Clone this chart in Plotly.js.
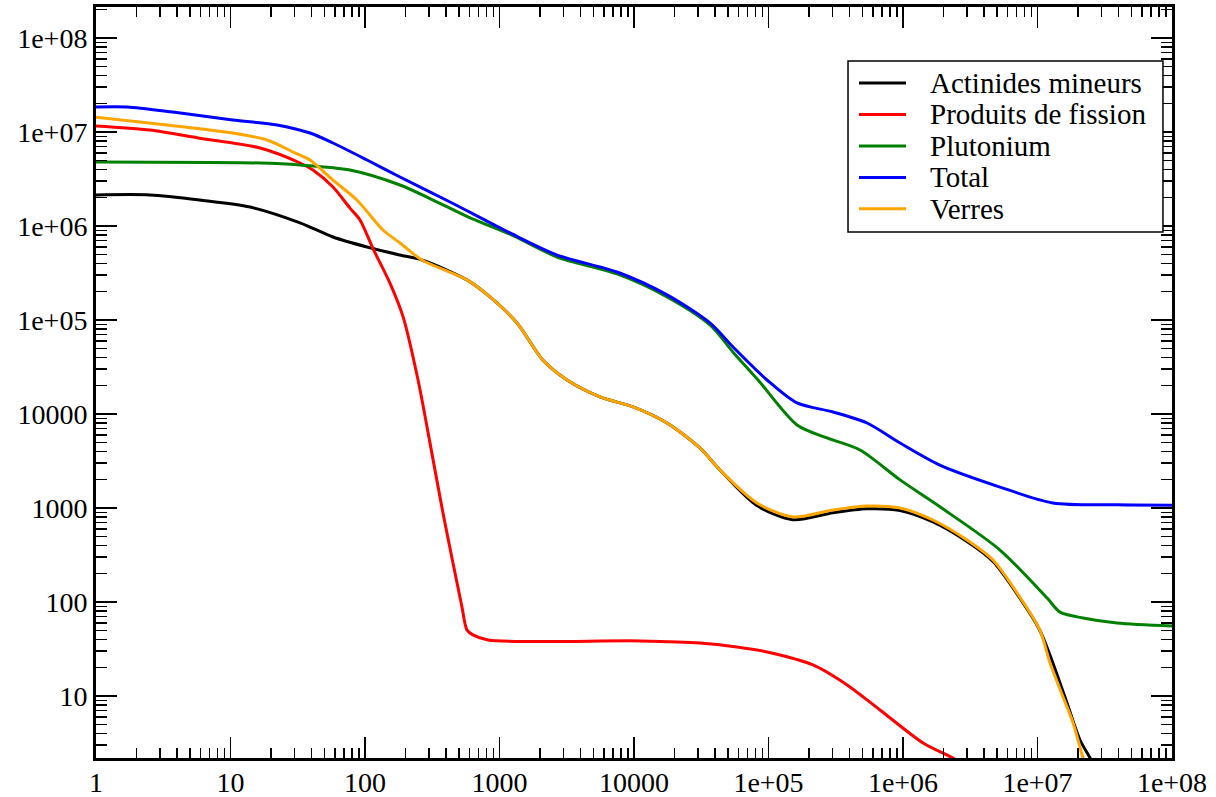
<!DOCTYPE html>
<html>
<head>
<meta charset="utf-8">
<script src="https://cdn.plot.ly/plotly-3.0.1.min.js"></script>
<style>
  html, body { margin: 0; padding: 0; background: #ffffff; }
  #chart { width: 1216px; height: 797px; }
</style>
</head>
<body>
<div id="chart"></div>
<script>
// ---- Data ----
const seriesNames = ["Actinides mineurs", "Produits de fission", "Plutonium", "Total", "Verres"];
const seriesColors = ["#000000", "#ff0000", "#008000", "#0000ff", "#ffa500"];

const tActinides = [1, 2.52, 5.9, 14, 32.9, 57.8, 103.5, 182, 265, 573, 849, 1350, 2100, 3180, 5590, 9840, 17600, 30900, 43500, 82000, 152000, 302000, 540000, 951000, 1.67e6, 2.99e6, 4.67e6, 7.04e6, 1.04e7, 1.6e7, 2.07e7, 2.46e7, 2.68e7];
const vActinides = [2.14e6, 2.14e6, 1.89e6, 1.59e6, 1.08e6, 7.64e5, 5.98e5, 4.91e5, 4.35e5, 2.67e5, 1.76e5, 9.3e4, 3.75e4, 2.3e4, 1.52e4, 1.19e4, 8020, 4350, 2540, 1060, 750, 890, 980, 940, 710, 440, 270, 122, 50, 9.75, 3.4, 2.19, 1.63];

const tFission = [1, 2.52, 5.9, 16.6, 32.9, 41, 57.8, 77.3, 91.8, 115, 153, 192, 248, 321, 380, 451, 526, 573, 635, 821, 11100, 31000, 58300, 97500, 214000, 384000, 674000, 1.41e6, 2.35e6, 3.43e6];
const vFission = [1.16e7, 1.05e7, 8.6e6, 6.76e6, 4.68e6, 3.94e6, 2.6e6, 1.55e6, 1.16e6, 5.7e5, 2.48e5, 1.08e5, 2.3e4, 3240, 885, 260, 88.5, 50.4, 44.6, 39.4, 38.5, 36.6, 33.2, 29.4, 21.4, 13.1, 7.1, 3.16, 2.19, 1.63];

const tPlutonium = [1, 16.6, 32.9, 77.3, 182, 321, 604, 1197, 2680, 7480, 17600, 36700, 54500, 83600, 163000, 272000, 479000, 951000, 1.88e6, 5.26e6, 1.18e7, 1.47e7, 2.18e7, 3.9e7, 1e8];
const vPlutonium = [4.8e6, 4.68e6, 4.46e6, 3.94e6, 2.73e6, 1.89e6, 1.22e6, 8.2e5, 4.68e5, 3.09e5, 1.76e5, 8.85e4, 4.55e4, 2.3e4, 7640, 5560, 4140, 1990, 1030, 357, 110, 78, 67.6, 59.8, 55.6];

const tTotal = [1, 1.7, 3.73, 10.4, 22.2, 39, 57.8, 103.5, 182, 429, 1197, 2680, 7480, 17600, 36700, 54500, 97500, 163000, 302000, 540000, 951000, 1.88e6, 5.26e6, 1.3e7, 3.9e7, 1e8];
const vTotal = [1.85e7, 1.85e7, 1.63e7, 1.34e7, 1.19e7, 9.75e6, 7.64e6, 5.04e6, 3.32e6, 1.8e6, 8.43e5, 4.91e5, 3.24e5, 1.85e5, 9.3e4, 5.16e4, 2.3e4, 1.31e4, 1.05e4, 8020, 4910, 2860, 1670, 1130, 1080, 1070];

const tVerres = [1, 3.37, 10.4, 18.7, 29.2, 39, 57.8, 87, 136, 182, 265, 573, 849, 1350, 2100, 3180, 5590, 9840, 17600, 30900, 43500, 82000, 152000, 302000, 540000, 951000, 1.67e6, 2.99e6, 4.67e6, 7.04e6, 1.04e7, 1.24e7, 1.55e7, 1.84e7, 2.18e7, 2.46e7];
const vVerres = [1.44e7, 1.19e7, 9.75e6, 8.22e6, 6.12e6, 5.04e6, 3.08e6, 1.89e6, 9.06e5, 6.59e5, 4.35e5, 2.67e5, 1.76e5, 9.3e4, 3.75e4, 2.3e4, 1.52e4, 1.19e4, 8020, 4350, 2540, 1130, 802, 953, 1050, 1000, 745, 457, 280, 125, 50.4, 22.4, 9.75, 5.16, 2.19, 1.28];

const xTickVals = [1, 10, 100, 1000, 10000, 1e5, 1e6, 1e7, 1e8];
const xTickText = ["1", "10", "100", "1000", "10000", "1e+05", "1e+06", "1e+07", "1e+08"];
const yTickVals = [10, 100, 1000, 10000, 1e5, 1e6, 1e7, 1e8];
const yTickText = ["10", "100", "1000", "10000", "1e+05", "1e+06", "1e+07", "1e+08"];

// ---- Build ----
function minorVals(kMin, kMax) {
  const out = [];
  for (let k = kMin; k <= kMax; k++) {
    for (let m = 2; m <= 9; m++) out.push(m * Math.pow(10, k));
  }
  return out;
}

const xs = [tActinides, tFission, tPlutonium, tTotal, tVerres];
const ys = [vActinides, vFission, vPlutonium, vTotal, vVerres];

const traces = seriesNames.map((name, i) => ({
  type: "scatter",
  mode: "lines",
  name: name,
  x: xs[i],
  y: ys[i],
  line: { color: seriesColors[i], width: 3, shape: "spline", smoothing: 0.8 },
  showlegend: false
}));

const fontFam = "Liberation Serif";

const axisCommon = {
  type: "log",
  showgrid: false,
  zeroline: false,
  showline: true,
  linecolor: "#000000",
  linewidth: 3,
  mirror: "ticks",
  ticks: "inside",
  ticklen: 21,
  tickwidth: 1.5,
  tickcolor: "#000000",
  tickmode: "array",
  tickfont: { family: fontFam, size: 28, color: "#000000" }
};

// Legend box drawn in paper coordinates (layout only)
const legendBox = { x0: 0.6989, x1: 0.9916, y0: 0.7004, y1: 0.9281 };
const legendLineX = [0.7091, 0.7528];
const legendTextX = 0.7732;
const legendTopY = 0.8988;
const legendStep = 0.0419;

const shapes = [{
  type: "rect", xref: "paper", yref: "paper",
  x0: legendBox.x0, x1: legendBox.x1, y0: legendBox.y0, y1: legendBox.y1,
  line: { color: "#000000", width: 1.5 }, fillcolor: "#ffffff", layer: "above"
}];
const annotations = [];
seriesNames.forEach((name, i) => {
  const yy = legendTopY - i * legendStep;
  shapes.push({
    type: "line", xref: "paper", yref: "paper",
    x0: legendLineX[0], x1: legendLineX[1], y0: yy, y1: yy,
    line: { color: seriesColors[i], width: 3 }, layer: "above"
  });
  annotations.push({
    xref: "paper", yref: "paper", x: legendTextX, y: yy,
    xanchor: "left", yanchor: "middle", showarrow: false,
    text: name, font: { family: fontFam, size: 29, color: "#000000" }
  });
});

const layout = {
  width: 1216,
  height: 797,
  margin: { l: 96, r: 44, t: 7, b: 39 },
  paper_bgcolor: "#ffffff",
  plot_bgcolor: "#ffffff",
  showlegend: false,
  font: { family: fontFam, color: "#000000" },
  xaxis: Object.assign({}, axisCommon, {
    range: [0, 8],
    tickvals: xTickVals,
    ticktext: xTickText,
    ticklabelstandoff: -3,
    minor: { tickmode: "array", tickvals: minorVals(0, 7), ticks: "inside", ticklen: 10, tickwidth: 1.5, tickcolor: "#000000", showgrid: false }
  }),
  yaxis: Object.assign({}, axisCommon, {
    range: [0.34, 8.33],
    tickvals: yTickVals,
    ticktext: yTickText,
    minor: { tickmode: "array", tickvals: minorVals(0, 8), ticks: "inside", ticklen: 11, tickwidth: 1.5, tickcolor: "#000000", showgrid: false }
  }),
  shapes: shapes,
  annotations: annotations
};

Plotly.newPlot("chart", traces, layout, { staticPlot: true, displayModeBar: false });
</script>
</body>
</html>
